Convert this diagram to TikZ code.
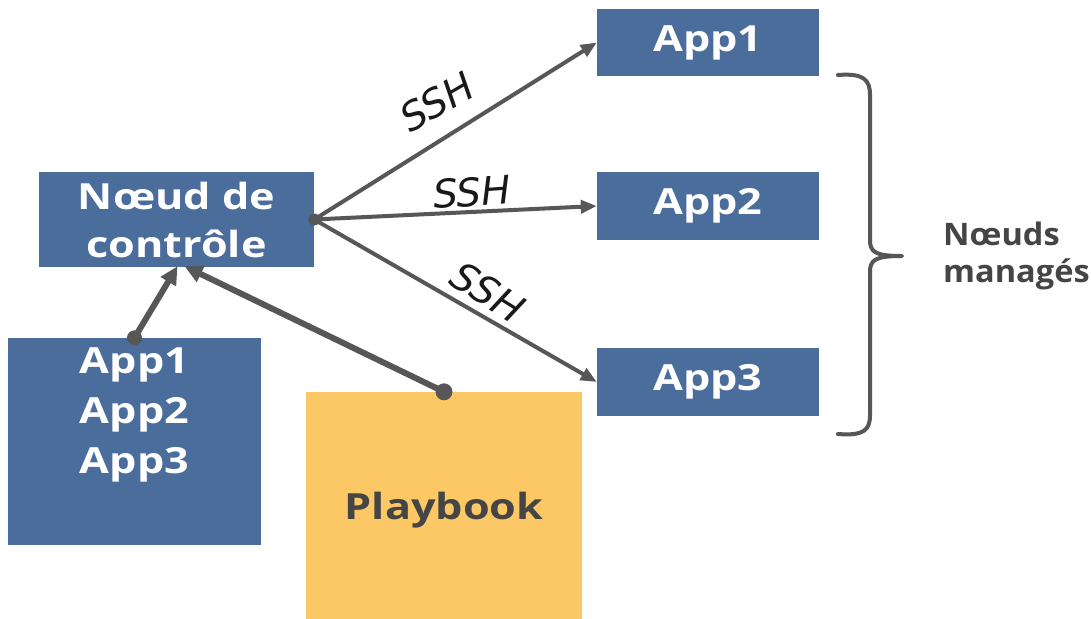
\documentclass[tikz,border=0pt]{standalone}
\usepackage{fontspec}
\setmainfont{Open Sans}
\newfontfamily\boxfont[FakeStretch=1.2]{Open Sans}
\newfontfamily\notefont[FakeStretch=1.05]{Open Sans}
\newfontfamily\sshfont{DejaVu Sans}
\usetikzlibrary{arrows.meta,calc}
\definecolor{boxblue}{HTML}{4A6D9C}
\definecolor{pbyellow}{HTML}{FCC865}
\definecolor{linegray}{HTML}{575757}
\definecolor{textgray}{HTML}{454545}
\tikzset{
  bluebox/.style={fill=boxblue, draw=none, text=white, font=\boxfont\bfseries\fontsize{36}{48}\selectfont, align=center, inner sep=0pt},
  sshline/.style={draw=linegray, line width=4pt, -{Triangle[length=16pt,width=13pt]}},
  feedline/.style={draw=linegray, line width=6pt, -{Triangle[length=18pt,width=17pt]}},
  sshlabel/.style={font=\sshfont\itshape\fontsize{39}{39}\selectfont, text=black!90, inner sep=0pt},
  enddot/.style={fill=linegray, circle, inner sep=0pt},
}
\begin{document}
\begin{tikzpicture}[x=1pt, y=-1pt]
  \useasboundingbox (0,0) rectangle (1091,618);
  \fill[white] (0,0) rectangle (1091,618);

  % control node
  \node[bluebox, minimum width=275pt, minimum height=95pt] (ctrl) at (176.5,219.5) {Nœud de\\contrôle};

  % inventory box with its three applications
  \node[bluebox, minimum width=253pt, minimum height=207pt] (inv) at (134.5,441.5) {};
  \node[bluebox, fill=none, font=\boxfont\bfseries\fontsize{36}{50}\selectfont] (invtext) at (134.5,415) {App1\\App2\\App3};

  % playbook
  \node[fill=pbyellow, minimum width=276pt, minimum height=240pt, inner sep=0pt] (pb) at (444,512) {};
  \node[text=textgray, font=\boxfont\bfseries\fontsize{36}{40}\selectfont] (pbtext) at (444,510) {Playbook};

  % managed nodes
  \node[bluebox, minimum width=222pt, minimum height=66pt] (app1) at (708,42.5) {App1};
  \node[bluebox, minimum width=222pt, minimum height=68pt] (app2) at (708,206) {App2};
  \node[bluebox, minimum width=222pt, minimum height=68pt] (app3) at (708,382) {App3};

  % SSH connections
  \path[sshline] (ctrl.east) -- (app1.west);
  \path[sshline] (ctrl.east) -- (app2.west);
  \path[sshline] (ctrl.east) -- (app3.west);
  \node[enddot, minimum size=12pt] (ctrldot) at (ctrl.east) {};
  \node[sshlabel, rotate=30] (ssh1) at (437,102) {SSH};
  \node[sshlabel, rotate=4] (ssh2) at (472,192) {SSH};
  \node[sshlabel, rotate=-32] (ssh3) at (488,292) {SSH};

  % inputs to the control node
  \path[feedline] (inv.north) -- ([xshift=1pt,yshift=1pt]ctrl.south);
  \path[feedline] (pb.north) -- ([xshift=8pt,yshift=1pt]ctrl.south);
  \node[enddot, minimum size=15pt] (invdot) at (inv.north) {};
  \node[enddot, minimum size=17pt] (pbdot) at (pb.north) {};

  % brace grouping the managed nodes
  \coordinate (bt) at (838,75);
  \coordinate (bm) at (902,256);
  \coordinate (bb) at (838,434);
  \draw[linegray, line width=4pt, line cap=round, line join=round]
    (bt) .. controls (864,73) and (870,80) .. (870,95) -- (870,240)
    .. controls (870,252) and (875,256) .. (bm)
    .. controls (875,256) and (870,260) .. (870,272) -- (870,415)
    .. controls (870,430) and (864,436) .. (bb);
  \node[anchor=west, align=left, text=textgray, font=\notefont\bfseries\fontsize{31}{37}\selectfont, inner sep=0pt] (managed) at (943,256) {Nœuds\\managés};
\end{tikzpicture}
\end{document}
